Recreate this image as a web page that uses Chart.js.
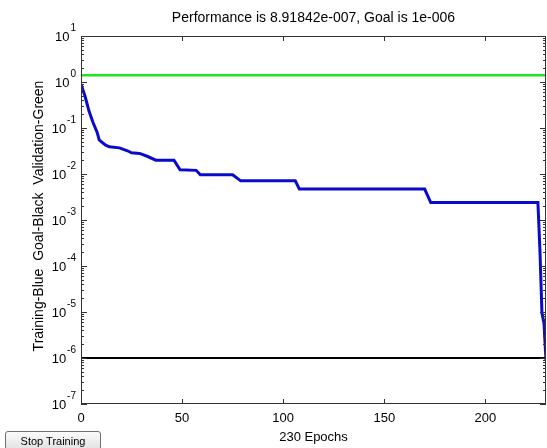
<!DOCTYPE html>
<html>
<head>
<meta charset="utf-8">
<script src="https://cdn.jsdelivr.net/npm/chart.js@4.4.0/dist/chart.umd.min.js"></script>
<style>
  html, body { margin: 0; padding: 0; background: #fff; }
  #wrap { position: relative; width: 547px; height: 448px; overflow: hidden; }
  #perf-chart { position: absolute; left: 0; top: 0; }
  #stop-btn {
    position: absolute; left: 5px; top: 431px; width: 96px; height: 19px;
    padding: 0; font: 11px "Liberation Sans", Arial, sans-serif; color: #000;
    background: linear-gradient(#fbfbfb, #e2e2e2);
    border: 1px solid #707070; border-radius: 3px;
  }
</style>
</head>
<body>
<div id="wrap">
  <canvas id="perf-chart" width="547" height="448"></canvas>
  <button id="stop-btn">Stop Training</button>
</div>
<script>
// Training record
const epochs    = [0, 2, 4, 6, 8, 9, 12, 14, 19, 23, 25, 29, 33, 37, 46, 49, 57, 59, 75, 79, 106, 108, 170, 173, 226, 227, 228, 229, 230];
const trainPerf = [0.9, 0.49, 0.23, 0.13, 0.08, 0.055, 0.043, 0.039, 0.037, 0.032, 0.029, 0.028, 0.024, 0.020, 0.020, 0.0123, 0.012, 0.0096, 0.0096, 0.0071, 0.0071, 0.0047, 0.0047, 0.0024, 0.0024, 2.2e-4, 9.5e-6, 5.7e-6, 8.9e-7];
const goalValue = 1e-6;
const validationValue = 1.4;
const maxEpoch = 230;

// Axis ticks
const xTicks = [0, 50, 100, 150, 200];
const yExponents = [1, 0, -1, -2, -3, -4, -5, -6, -7];

const titleText = 'Performance is 8.91842e-007, Goal is 1e-006';
const xLabelText = '230 Epochs';
const yLabelText = 'Training-Blue  Goal-Black  Validation-Green';

const FONT = '"Liberation Sans", Arial, sans-serif';

/**
 * Draw a MATLAB style box axes: inward ticks, 10^n labels, title
 */
const matlabAxes = {
  id: 'matlabAxes',
  afterDatasetsDraw(chart) {
    const { ctx, chartArea: a, scales: { x, y } } = chart;
    const seg = (x1, y1, x2, y2) => {
      ctx.beginPath(); ctx.moveTo(x1, y1); ctx.lineTo(x2, y2); ctx.stroke();
    };
    ctx.save();
    ctx.strokeStyle = '#333';
    ctx.lineWidth = 1;
    ctx.strokeRect(a.left + 0.5, a.top + 0.5, a.right - a.left - 1, a.bottom - a.top - 1);

    // x ticks, top and bottom
    xTicks.forEach(v => {
      const px = Math.round(x.getPixelForValue(v)) + 0.5;
      seg(px, a.bottom, px, a.bottom - 5);
      seg(px, a.top, px, a.top + 5);
    });

    // y ticks, major + log minor, left and right
    const topExp = Math.max(...yExponents);
    yExponents.forEach(e => {
      const py = Math.round(y.getPixelForValue(Math.pow(10, e))) + 0.5;
      seg(a.left, py, a.left + 6, py);
      seg(a.right, py, a.right - 6, py);
      if (e === topExp) return;
      for (let k = 2; k <= 9; k++) {
        const pm = Math.round(y.getPixelForValue(k * Math.pow(10, e))) + 0.5;
        seg(a.left, pm, a.left + 3, pm);
        seg(a.right, pm, a.right - 3, pm);
      }
    });

    ctx.fillStyle = '#000';

    // y tick labels with superscript exponent
    const labelRight = a.left - 5;
    yExponents.forEach(e => {
      const py = y.getPixelForValue(Math.pow(10, e));
      ctx.font = '10px ' + FONT;
      const expStr = String(e);
      const expW = ctx.measureText(expStr).width;
      ctx.textAlign = 'left';
      ctx.textBaseline = 'middle';
      ctx.fillText(expStr, labelRight - expW, py - 8);
      ctx.font = '13px ' + FONT;
      ctx.textAlign = 'right';
      ctx.fillText('10', labelRight - expW - 1, py + 1);
    });

    // x tick labels
    ctx.font = '13px ' + FONT;
    ctx.textAlign = 'center';
    ctx.textBaseline = 'middle';
    xTicks.forEach(v => {
      ctx.fillText(String(v), x.getPixelForValue(v), a.bottom + 14);
    });

    const cx = (a.left + a.right) / 2;
    ctx.fillText(xLabelText, cx, a.bottom + 33);
    ctx.font = '14px ' + FONT;
    ctx.fillText(titleText, cx, 18);

    ctx.translate(39, (a.top + a.bottom) / 2 - 4);
    ctx.rotate(-Math.PI / 2);
    ctx.fillText(yLabelText, 0, 0);
    ctx.restore();
  }
};

function renderPerfChart() {
  const canvas = document.getElementById('perf-chart');
  if (!canvas || typeof Chart === 'undefined') return;
  const ctx = canvas.getContext('2d');

  new Chart(ctx, {
    type: 'line',
    data: {
      datasets: [
        {
          label: 'Validation',
          data: [{ x: 0, y: validationValue }, { x: maxEpoch, y: validationValue }],
          borderColor: '#1ee61e',
          borderWidth: 2.5,
          pointRadius: 0
        },
        {
          label: 'Goal',
          data: [{ x: 0, y: goalValue }, { x: maxEpoch, y: goalValue }],
          borderColor: '#000',
          borderWidth: 2,
          pointRadius: 0
        },
        {
          label: 'Training',
          data: epochs.map((ep, i) => ({ x: ep, y: trainPerf[i] })),
          borderColor: '#0a0acc',
          borderWidth: 3,
          pointRadius: 0,
          tension: 0
        }
      ]
    },
    options: {
      responsive: false,
      animation: false,
      devicePixelRatio: 1,
      layout: { padding: { left: 81, right: 1, top: 36, bottom: 44 } },
      plugins: {
        legend: { display: false },
        tooltip: { enabled: false },
        title: { display: false }
      },
      scales: {
        x: { type: 'linear', min: 0, max: maxEpoch, display: false },
        y: { type: 'logarithmic', min: 1e-7, max: 10, display: false }
      }
    },
    plugins: [matlabAxes]
  });
}

renderPerfChart();
</script>
</body>
</html>
